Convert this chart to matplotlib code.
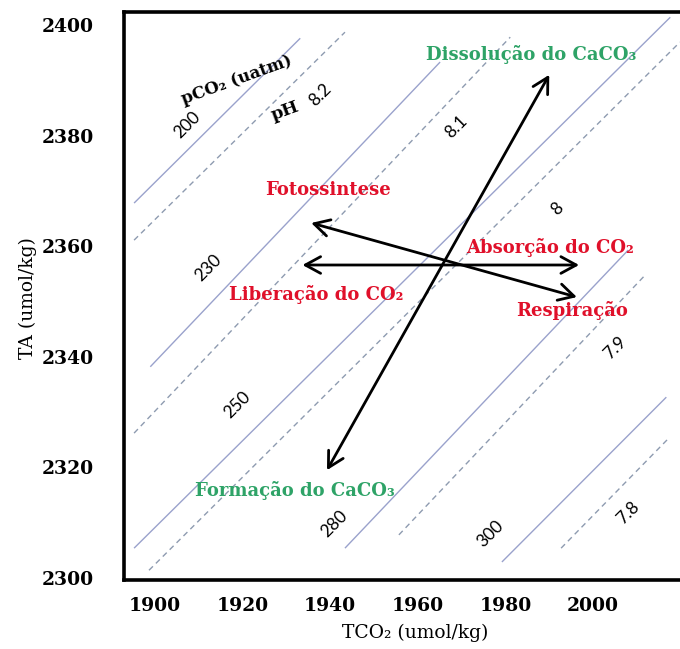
import matplotlib
matplotlib.use("Agg")
import matplotlib.pyplot as plt

# pCO2 isolines (uatm): end points in TCO2 (umol/kg) and TA (umol/kg)
pco2_levels = ["200", "230", "250", "280", "300"]
pco2_tco2_start = [1895.3, 1899.0, 1895.3, 1943.4, 1979.2]
pco2_tco2_end = [1933.2, 1965.1, 2017.6, 2008.0, 2016.7]
pco2_ta_start = [2367.8, 2338.2, 2305.4, 2305.4, 2302.9]
pco2_ta_end = [2397.6, 2393.3, 2401.4, 2359.3, 2332.7]

# pH isolines
ph_levels = ["8.2", "8.1", "8", "7.9", "7.8"]
ph_tco2_start = [1895.3, 1895.3, 1898.7, 1955.7, 1992.7]
ph_tco2_end = [1943.4, 1981.1, 2019.8, 2011.9, 2016.9]
ph_ta_start = [2361.1, 2326.2, 2301.4, 2307.8, 2305.4]
ph_ta_end = [2398.7, 2397.8, 2396.9, 2354.8, 2325.0]

# Process vectors (double-headed): TCO2/TA at both ends
process_pairs = [
    ("Liberação do CO\u2082", "Absorção do CO\u2082"),
    ("Fotossintese", "Respiração"),
    ("Formação do CaCO\u2083", "Dissolução do CaCO\u2083"),
]
vec_tco2_a = [1933.7, 1935.7, 1939.3]
vec_ta_a = [2356.6, 2364.2, 2319.5]
vec_tco2_b = [1996.8, 1996.3, 1990.0]
vec_ta_b = [2356.6, 2350.8, 2391.0]

x_ticks = [1900, 1920, 1940, 1960, 1980, 2000]
y_ticks = [2300, 2320, 2340, 2360, 2380, 2400]

# label placement (data coordinates)
pco2_label_xy = [(1907.4, 2381.9), (1912.2, 2356.1), (1918.8, 2331.3),
                 (1940.9, 2309.8), (1976.5, 2308.0)]
ph_label_xy = [(1937.7, 2387.3), (1968.7, 2381.6), (1991.8, 2366.7),
               (2005.0, 2341.6), (2008.0, 2311.8)]
process_label_xy = {
    "Liberação do CO\u2082": (1936.8, 2351.2),
    "Absorção do CO\u2082": (1990.2, 2359.7),
    "Fotossintese": (1939.6, 2370.2),
    "Respiração": (1995.3, 2348.3),
    "Formação do CaCO\u2083": (1932.0, 2315.9),
    "Dissolução do CaCO\u2083": (1985.9, 2394.6),
}
process_colors = {
    "Liberação do CO\u2082": "#e0102a",
    "Absorção do CO\u2082": "#e0102a",
    "Fotossintese": "#e0102a",
    "Respiração": "#e0102a",
    "Formação do CaCO\u2083": "#2ea367",
    "Dissolução do CaCO\u2083": "#2ea367",
}

SERIF = ["DejaVu Serif"]
SANS = ["Lato", "DejaVu Sans"]

fig = plt.figure(figsize=(6.8, 6.49), dpi=100)
ax = fig.add_axes([124 / 680, 69 / 649, 566 / 680, 568 / 649])
ax.set_xlim(1893.0, 2022.1)
ax.set_ylim(2299.64, 2402.35)

for x0, x1, y0, y1 in zip(pco2_tco2_start, pco2_tco2_end, pco2_ta_start, pco2_ta_end):
    ax.plot([x0, x1], [y0, y1], color="#9aa2cc", lw=1.0, solid_capstyle="butt")
for x0, x1, y0, y1 in zip(ph_tco2_start, ph_tco2_end, ph_ta_start, ph_ta_end):
    ax.plot([x0, x1], [y0, y1], color="#8e9bb0", lw=1.0, ls=(0, (4, 3)))

for lab, (x, y) in zip(pco2_levels, pco2_label_xy):
    ax.text(x, y, lab, rotation=45, ha="center", va="center",
            family=SANS, fontsize=12.5, rotation_mode="anchor")
for lab, (x, y) in zip(ph_levels, ph_label_xy):
    ax.text(x, y, lab, rotation=45, ha="center", va="center",
            family=SANS, fontsize=12.5, rotation_mode="anchor")

ax.text(1918.8, 2390.1, "pCO\u2082 (uatm)", rotation=20, ha="center", va="center",
        family=SERIF, fontsize=12, fontweight="bold", rotation_mode="anchor")
ax.text(1929.8, 2384.4, "pH", rotation=20, ha="center", va="center",
        family=SERIF, fontsize=12.5, fontweight="bold", rotation_mode="anchor")

for (la, lb), xa, ya, xb, yb in zip(process_pairs, vec_tco2_a, vec_ta_a, vec_tco2_b, vec_ta_b):
    ax.annotate("", xy=(xb, yb), xytext=(xa, ya),
                arrowprops=dict(arrowstyle="<->,head_length=0.55,head_width=0.3",
                                color="black", lw=2.0, shrinkA=0, shrinkB=0,
                                mutation_scale=20))
    for lab in (la, lb):
        x, y = process_label_xy[lab]
        ax.text(x, y, lab, ha="center", va="center", family=SERIF,
                fontsize=13, fontweight="bold", color=process_colors[lab])

ax.set_xticks(x_ticks)
ax.set_yticks(y_ticks)
ax.set_xticklabels([str(v) for v in x_ticks], family=SERIF, fontsize=13.5,
                   fontweight="bold")
ax.set_yticklabels([str(v) for v in y_ticks], family=SERIF, fontsize=13.5,
                   fontweight="bold")
ax.tick_params(axis="both", length=0)
ax.tick_params(axis="x", pad=12)
ax.tick_params(axis="y", pad=22)

ax.set_xlabel("TCO\u2082 (umol/kg)", family=SERIF, fontsize=13.5)
ax.set_ylabel("TA (umol/kg)", family=SERIF, fontsize=13.5)
ax.xaxis.set_label_coords((415 - 124) / 566, -(624 - 580) / 568)
ax.yaxis.set_label_coords(-(124 - 37) / 566, (580 - 298) / 568)

for s in ax.spines.values():
    s.set_linewidth(2.6)
    s.set_color("black")

fig.savefig("out.png", dpi=100)
